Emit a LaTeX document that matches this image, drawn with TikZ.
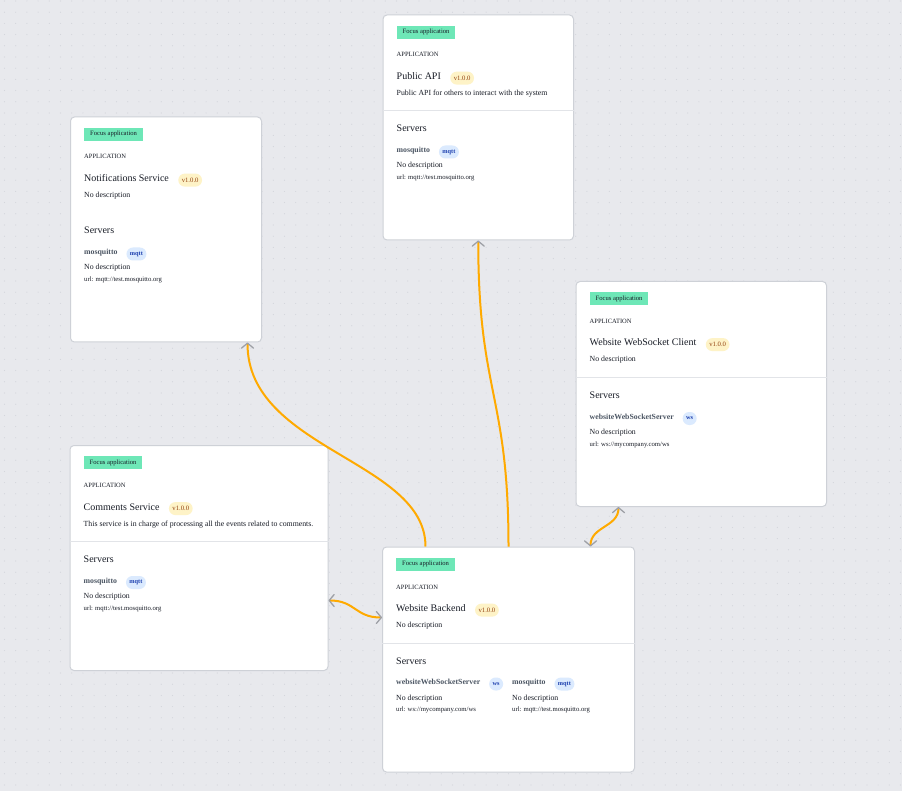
\documentclass[tikz,border=0pt]{standalone}
\usepackage{fontspec}
\setmainfont{Liberation Serif}
\usepackage{tikz}
\usetikzlibrary{arrows.meta,calc,positioning}
\definecolor{canvas}{RGB}{232,233,237}
\definecolor{griddot}{RGB}{212,214,220}
\definecolor{cardline}{RGB}{206,209,215}
\definecolor{rulegray}{RGB}{226,228,232}
\definecolor{focus}{RGB}{110,231,183}
\definecolor{ink}{RGB}{24,28,38}
\definecolor{srvink}{RGB}{75,85,99}
\definecolor{verfill}{RGB}{254,243,199}
\definecolor{verink}{RGB}{146,64,14}
\definecolor{protofill}{RGB}{219,234,254}
\definecolor{protoink}{RGB}{30,64,175}
\definecolor{flow}{RGB}{255,170,0}
\definecolor{tipgray}{RGB}{158,160,166}
\tikzset{>={Straight Barb[length=5pt,width=12pt,line width=1.3pt,color=tipgray,round]}}
\tikzset{
  card/.style={draw=cardline, line width=1pt, fill=white, rounded corners=4pt,
    anchor=north west, minimum height=225pt, inner sep=0pt},
  tagbox/.style={fill=focus, text=ink, font=\fontsize{6.6}{7}\selectfont,
    inner xsep=6pt, inner ysep=0pt, minimum height=13pt, anchor=north west},
  kind/.style={font=\fontsize{6.5}{7}\selectfont, text=ink, inner sep=0pt, anchor=base west},
  apptitle/.style={font=\fontsize{10}{12}\selectfont, text=ink, inner sep=0pt, anchor=base west},
  appdesc/.style={font=\fontsize{7.8}{9}\selectfont, text=ink, inner sep=0pt, anchor=base west},
  srvname/.style={font=\fontsize{7.8}{9}\selectfont\bfseries, text=srvink, inner sep=0pt, anchor=base west},
  srvurl/.style={font=\fontsize{6.7}{8}\selectfont, text=ink, inner sep=0pt, anchor=base west},
  verbadge/.style={fill=verfill, text=verink, font=\fontsize{6.7}{8}\selectfont,
    rounded corners=6.5pt, inner xsep=3.5pt, inner ysep=0pt, minimum height=13pt, anchor=west},
  protobadge/.style={fill=protofill, text=protoink, font=\fontsize{6.3}{8}\selectfont\bfseries,
    rounded corners=6.5pt, inner xsep=3.5pt, inner ysep=0pt, minimum height=13pt,
    minimum width=14pt, anchor=west},
  link/.style={draw=flow, line width=2pt},
}

\begin{document}
\begin{tikzpicture}[x=1pt, y=-1pt]

  \newcommand\appcard[6]{% name, x, y, width, title, description
    \node[card, minimum width=#4pt] (#1) at (#2,#3) {};
    \node[tagbox] (#1-tag) at ($(#1.north west)+(14,11)$) {Focus application};
    \node[kind] (#1-kind) at ($(#1.north west)+(14,42.5)$) {APPLICATION};
    \node[apptitle] (#1-title) at ($(#1.north west)+(14,65)$) {#5};
    \node[verbadge] (#1-ver) at ($(#1-title.base east)+(9,-1.4)$) {v1.0.0};
    \node[appdesc] (#1-desc) at ($(#1.north west)+(14,81)$) {#6};
    \node[apptitle] (#1-servers) at ($(#1.north west)+(14,117.5)$) {Servers};
  }
  \newcommand\appserver[6]{% card, id, x offset, name, protocol, url
    \node[srvname] (#1-#2) at ($(#1.north west)+(#3,138)$) {#4};
    \node[protobadge] (#1-#2-proto) at ($(#1-#2.base east)+(8.5,-0.5)$) {#5};
    \node[appdesc] (#1-#2-desc) at ($(#1.north west)+(#3,153.5)$) {No description};
    \node[srvurl] (#1-#2-url) at ($(#1.north west)+(#3,165)$) {url: #6};
  }
  \newcommand\cardrule[1]{%
    \draw[rulegray, line width=1pt] ($(#1.north west)+(0,96.5)$) -- ($(#1.north east)+(0,96.5)$);
  }

  % canvas with dot grid
  \useasboundingbox[fill=canvas] (0,0) rectangle (902,791);
  \foreach \i in {0,...,80}
    \foreach \j in {0,...,70}
      \fill[griddot] (4.5+11.2*\i, 1+11.2*\j) circle (0.6pt);

  % applications
  \appcard{notif}{70}{116.5}{191}{Notifications Service}{No description}
  \appserver{notif}{mq}{14}{mosquitto}{mqtt}{mqtt://test.mosquitto.org}

  \appcard{pubapi}{382.5}{14.5}{190.5}{Public API}{Public API for others to interact with the system}
  \cardrule{pubapi}
  \appserver{pubapi}{mq}{14}{mosquitto}{mqtt}{mqtt://test.mosquitto.org}

  \appcard{wsclient}{575.5}{281}{250.5}{Website WebSocket Client}{No description}
  \cardrule{wsclient}
  \appserver{wsclient}{ws}{14}{websiteWebSocketServer}{ws}{ws://mycompany.com/ws}

  \appcard{comments}{69.5}{445}{258}{Comments Service}{This service is in charge of processing all the events related to comments.}
  \cardrule{comments}
  \appserver{comments}{mq}{14}{mosquitto}{mqtt}{mqtt://test.mosquitto.org}

  \appcard{backend}{382}{546.5}{252}{Website Backend}{No description}
  \cardrule{backend}
  \appserver{backend}{ws}{14}{websiteWebSocketServer}{ws}{ws://mycompany.com/ws}
  \appserver{backend}{mq}{130}{mosquitto}{mqtt}{mqtt://test.mosquitto.org}

  % flows
  \draw[link,->] ([xshift=-83pt]backend.north) .. controls +(0,-86) and +(0,107) .. ([xshift=81.5pt]notif.south); %% backend -> notif
  \draw[link,->] (backend.north) .. controls +(0,-153) and +(0,153) .. (pubapi.south); %% backend -> pubapi
  \draw[link,<->] ([xshift=82pt]backend.north) .. controls +(0,-20) and +(0,20) .. ([xshift=-82.75pt]wsclient.south); %% backend <-> wsclient
  \draw[link,<->] ([yshift=-42.5pt]comments.east) .. controls +(27,0) and +(-27,0) .. ([yshift=42pt]backend.west); %% comments <-> backend

\end{tikzpicture}
\end{document}
